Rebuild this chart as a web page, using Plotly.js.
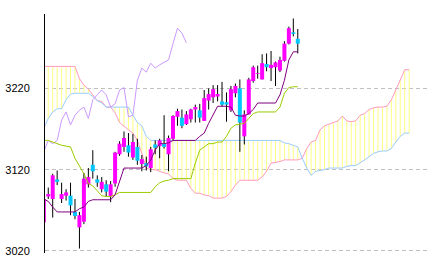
<!DOCTYPE html>
<html><head><meta charset="utf-8">
<script src="https://cdn.plot.ly/plotly-3.0.1.min.js"></script>
<style>html,body{margin:0;padding:0;background:#fff}#chart{width:433px;height:265px}</style>
</head><body><div id="chart"></div>
<script>
// Candles (index 0..57)
const openP  = [3055,3087,3084,3108,3084,3088,3088,3068,3049,3056,3102,3126,3108,3096,3102,3087,3103,3139,3148,3150,3135,3148,3127,3128,3122,3151,3149,3152,3139,3158,3185,3184,3176,3182,3194,3193,3180,3205,3209,3210,3204,3203,3193,3214,3220,3161,3188,3229,3238,3231,3250,3245,3246,3242,3254,3275,3289,3281];
const highP  = [3085,3098,3115,3119,3104,3096,3104,3084,3068,3116,3122,3144,3113,3111,3107,3106,3142,3155,3167,3165,3164,3158,3138,3136,3148,3156,3158,3187,3162,3187,3195,3194,3192,3195,3200,3201,3218,3220,3224,3224,3228,3215,3223,3226,3231,3193,3233,3248,3248,3262,3263,3266,3253,3259,3278,3296,3306,3293];
const lowP   = [3054,3084,3061,3101,3079,3082,3064,3059,3023,3053,3098,3109,3099,3092,3087,3080,3099,3137,3142,3136,3132,3126,3118,3119,3117,3139,3134,3146,3118,3156,3174,3171,3175,3178,3178,3178,3180,3194,3202,3204,3198,3179,3191,3209,3142,3151,3188,3227,3232,3231,3241,3229,3223,3240,3253,3274,3284,3263];
const closeP = [3084,3090,3113,3105,3090,3092,3076,3063,3064,3109,3111,3118,3104,3105,3093,3102,3141,3152,3159,3141,3154,3131,3133,3124,3145,3147,3156,3148,3159,3186,3192,3174,3188,3194,3197,3184,3208,3213,3219,3213,3200,3200,3219,3223,3178,3188,3231,3246,3239,3251,3246,3249,3252,3255,3275,3294,3287,3275];

// Ichimoku lines
const tenkan = [3084,3081,3074,3068,3068,3068,3068,3068,3072,3074,3081,3083,3083,3083,3083,3083,3089,3105,3122,3122,3122,3122,3122,3125,3132,3144,3152,3152,3153,3156,3156,3156,3156,3156,3156,3161,3165,3177,3187,3198,3198,3198,3197,3187,3186,3186,3189,3194,3202,3202,3202,3202,3202,3212,3230,3255,3265,3265];
const kijun  = [3156,3156,3154,3152,3150,3149,3148,3134,3124,3115,3103,3100,3094,3088,3087,3087,3089,3092,3092,3092,3092,3092,3092,3092,3092,3099,3104,3106,3107,3109,3109,3109,3109,3109,3128,3144,3148,3152,3152,3154,3154,3161,3171,3175,3176,3177,3183,3189,3191,3191,3191,3191,3191,3197,3214,3221,3222,3222];
const senkouA = [3247,3247,3247,3247,3247,3247,3247,3247,3232,3224,3219,3212,3205,3204,3197,3197,3190,3178,3173,3169,3165,3156,3140,3122,3120,3120,3118,3116,3115,3109,3107,3107,3107,3097,3091,3091,3089,3088,3085,3085,3085,3087,3093,3101,3107,3107,3107,3107,3107,3111,3118,3128,3129,3130,3132,3132,3132,3132,3134,3146,3154,3156,3169,3174,3176,3178,3180,3186,3180,3179,3180,3187,3189,3194,3196,3197,3197,3198,3206,3218,3230,3243,3243];
const senkouB = [3171,3183,3191,3195,3195,3206,3213,3214,3214,3214,3214,3210,3205,3202,3197,3197,3197,3197,3197,3197,3187,3178,3174,3161,3156,3156,3156,3156,3156,3156,3156,3156,3156,3156,3156,3156,3156,3156,3156,3156,3156,3156,3156,3156,3156,3156,3156,3156,3156,3156,3156,3156,3156,3156,3153,3152,3150,3148,3134,3122,3113,3118,3119,3120,3122,3122,3122,3122,3124,3125,3125,3128,3132,3136,3140,3142,3143,3143,3146,3154,3161,3165,3165];
const chikou = [3142,3156,3152,3156,3181,3191,3175,3187,3193,3197,3183,3206,3212,3218,3212,3197,3201,3218,3221,3185,3187,3230,3245,3240,3251,3245,3249,3252,3255,3275,3294,3288,3276];

const yTicks = [3020, 3120, 3220];
const yTickLabels = ["3020", "3120", "3220"];

const idx = n => Array.from({length: n}, (_, i) => i);

function segments(indices, y0, y1) {
  const xs = [], ys = [];
  indices.forEach(i => { xs.push(i, i, null); ys.push(y0[i], y1[i], null); });
  return {x: xs, y: ys};
}

const all = idx(openP.length);
const upIdx = all.filter(i => closeP[i] >= openP[i]);
const dnIdx = all.filter(i => closeP[i] < openP[i]);

const hatch = segments(idx(senkouA.length), senkouA, senkouB);
const wicks = segments(all, lowP, highP);
const upBodies = segments(upIdx, openP, closeP);
const dnBodies = segments(dnIdx, openP, closeP);

const traces = [
  {type: 'scatter', mode: 'lines', x: hatch.x, y: hatch.y, line: {color: '#ffff80', width: 1}, hoverinfo: 'skip', connectgaps: false},
  {type: 'scatter', mode: 'lines', x: idx(senkouA.length), y: senkouA, line: {color: '#ff99c0', width: 1}},
  {type: 'scatter', mode: 'lines', x: idx(senkouB.length), y: senkouB, line: {color: '#99ccff', width: 1}},
  {type: 'scatter', mode: 'lines', x: wicks.x, y: wicks.y, line: {color: '#000000', width: 1}, connectgaps: false},
  {type: 'scatter', mode: 'lines', x: upBodies.x, y: upBodies.y, line: {color: '#ff00ff', width: 4}, connectgaps: false},
  {type: 'scatter', mode: 'lines', x: dnBodies.x, y: dnBodies.y, line: {color: '#00c8ff', width: 4}, connectgaps: false},
  {type: 'scatter', mode: 'lines', x: idx(chikou.length), y: chikou, line: {color: '#cc99ff', width: 1}},
  {type: 'scatter', mode: 'lines', x: idx(kijun.length), y: kijun, line: {color: '#99cc00', width: 1}},
  {type: 'scatter', mode: 'lines', x: idx(tenkan.length), y: tenkan, line: {color: '#800080', width: 1}}
];

const layout = {
  width: 433, height: 265,
  margin: {l: 45, r: 6, t: 14, b: 12, pad: 0},
  paper_bgcolor: '#ffffff', plot_bgcolor: '#ffffff',
  showlegend: false,
  xaxis: {range: [0.27, 86], showgrid: false, zeroline: false, showticklabels: false, showline: false, ticks: '', fixedrange: true},
  yaxis: {
    range: [3017.5, 3311.5], tickvals: yTicks, ticktext: yTickLabels,
    showgrid: true, gridcolor: '#c0c0c0', griddash: '4px,3px', gridwidth: 1,
    showline: true, linecolor: '#000000', linewidth: 1, zeroline: false, ticks: '',
    ticklabelstandoff: 12,
    tickfont: {family: 'Liberation Sans, Arial, sans-serif', size: 11, color: '#000000'},
    fixedrange: true
  }
};

Plotly.newPlot('chart', traces, layout, {staticPlot: true, displayModeBar: false});
</script></body></html>
